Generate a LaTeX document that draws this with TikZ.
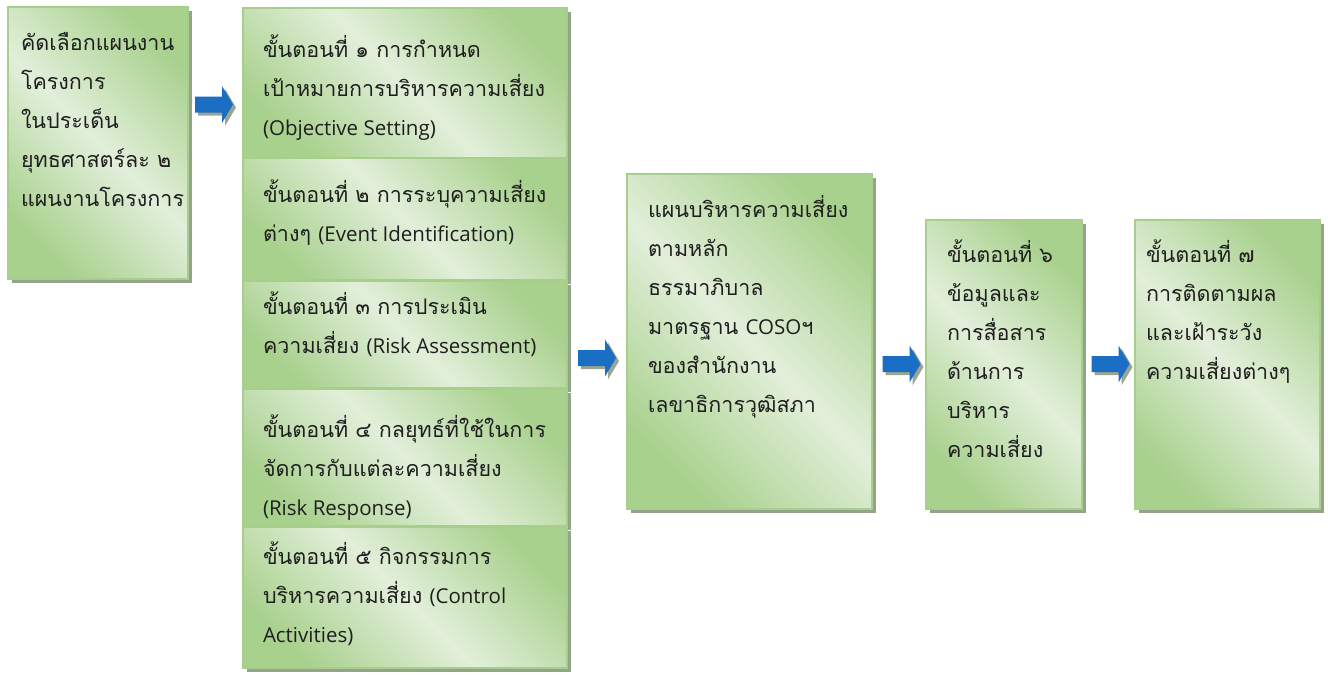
\documentclass[tikz,border=0pt]{standalone}
\usepackage{fontspec}
\newfontfamily\thaifont[Script=Thai]{Loma}
\newfontfamily\latinfont{Open Sans}
\newcommand\lat[1]{{\latinfont\fontsize{20.5}{39}\selectfont #1}}
\usetikzlibrary{shadows}
\definecolor{gr}{HTML}{A9D18E}
\definecolor{lt}{HTML}{E2EFDA}
\definecolor{bordergr}{HTML}{A6CF8A}
\definecolor{bevel}{HTML}{EAF4E3}
\definecolor{shadowc}{HTML}{96A38C}
\definecolor{arrowblue}{HTML}{1A6EC4}
\definecolor{arrowshadow}{HTML}{9AA493}
\newcommand\blockarrow[2]{%
  \fill[arrowshadow] ({#1-19+3},{#2-8+3}) -- ({#1+8+3},{#2-8+3}) -- ({#1+8+3},{#2-18.5+3}) -- ({#1+19+3},{#2+3}) -- ({#1+8+3},{#2+18.5+3}) -- ({#1+8+3},{#2+8+3}) -- ({#1-19+3},{#2+8+3}) -- cycle;
  \fill[arrowblue] ({#1-19},{#2-8}) -- ({#1+8},{#2-8}) -- ({#1+8},{#2-18.5}) -- ({#1+19},{#2}) -- ({#1+8},{#2+18.5}) -- ({#1+8},{#2+8}) -- ({#1-19},{#2+8}) -- cycle;
}
\begin{document}
\begin{tikzpicture}[x=1pt,y=-1pt,
  box/.style={draw=bordergr, line width=1.2pt, top color=gr, bottom color=gr, middle color=lt, shading angle=-45,
    drop shadow={shadow xshift=4pt, shadow yshift=-4pt, opacity=1, fill=shadowc},
    anchor=north west, inner sep=0pt, outer sep=0pt,
    append after command={
      (\tikzlastnode.south west) ++(2.5pt,2.2pt) coordinate (bvA)
      (\tikzlastnode.south east) ++(-2.2pt,2.2pt) coordinate (bvB)
      (\tikzlastnode.north east) ++(-2.2pt,-2.5pt) coordinate (bvC)
      [draw=bevel, line width=1pt] (bvA) -- (bvB) -- (bvC)}},
  txt/.style={anchor=north west, inner sep=0pt, outer sep=0pt, align=left, text=black!88,
    font=\thaifont\fontsize{21.5}{39}\selectfont}]
\useasboundingbox (0,0) rectangle (1328,688);
% left box
\node[box, minimum width=180pt, minimum height=272pt] (A) at (8,7) {};
% column
\node[box, minimum width=324pt, minimum height=150pt] (C1) at (243,8) {};
\node[box, minimum width=324pt, minimum height=122pt] (C2) at (243,158) {};
\node[box, minimum width=324pt, minimum height=107pt] (C3) at (243,281) {};
\node[box, minimum width=324pt, minimum height=137pt] (C4) at (243,389) {};
\node[box, minimum width=324pt, minimum height=141pt] (C5) at (243,527) {};
% middle
\node[box, minimum width=245pt, minimum height=335pt] (M) at (627,174) {};
\node[box, minimum width=156pt, minimum height=289pt] (S6) at (926,220) {};
\node[box, minimum width=185pt, minimum height=289pt] (S7) at (1135,220) {};
% texts
\node[txt] (tA) at (21,{50-27.3}) {\strut คัดเลือกแผนงาน\\\strut โครงการ\\\strut ในประเด็น\\\strut ยุทธศาสตร์ละ ๒\\\strut แผนงานโครงการ};
\node[txt] (t1) at (263,{57-27.3}) {\strut ขั้นตอนที่ ๑ การกำหนด\\\strut เป้าหมายการบริหารความเสี่ยง\\\strut \lat{(Objective Setting)}};
\node[txt] (t2) at (263,{202-27.3}) {\strut ขั้นตอนที่ ๒ การระบุความเสี่ยง\\\strut ต่างๆ \lat{(Event Identification)}};
\node[txt] (t3) at (263,{314-27.3}) {\strut ขั้นตอนที่ ๓ การประเมิน\\\strut ความเสี่ยง \lat{(Risk Assessment)}};
\node[txt] (t4) at (263,{437-27.3}) {\strut ขั้นตอนที่ ๔ กลยุทธ์ที่ใช้ในการ\\\strut จัดการกับแต่ละความเสี่ยง\\\strut \lat{(Risk Response)}};
\node[txt] (t5) at (263,{564-27.3}) {\strut ขั้นตอนที่ ๕ กิจกรรมการ\\\strut บริหารความเสี่ยง \lat{(Control}\\\strut \lat{Activities)}};
\node[txt] (tM) at (648,{217-27.3}) {\strut แผนบริหารความเสี่ยง\\\strut ตามหลัก\\\strut ธรรมาภิบาล\\\strut มาตรฐาน \lat{COSO}ฯ\\\strut ของสำนักงาน\\\strut เลขาธิการวุฒิสภา};
\node[txt] (t6) at (947,{262-27.3}) {\strut ขั้นตอนที่ ๖\\\strut ข้อมูลและ\\\strut การสื่อสาร\\\strut ด้านการ\\\strut บริหาร\\\strut ความเสี่ยง};
\node[txt] (t7) at (1146,{262-27.3}) {\strut ขั้นตอนที่ ๗\\\strut การติดตามผล\\\strut และเฝ้าระวัง\\\strut ความเสี่ยงต่างๆ};
% arrows
\blockarrow{214}{104.5}
\blockarrow{597}{358}
\blockarrow{901.5}{364}
\blockarrow{1110.5}{364}
\end{tikzpicture}
\end{document}
